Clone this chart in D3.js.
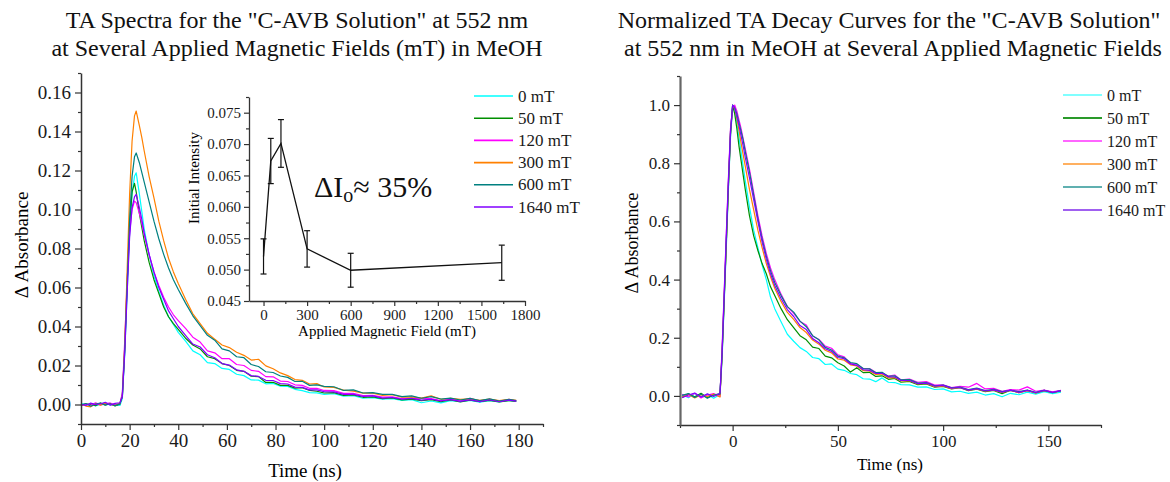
<!DOCTYPE html>
<html>
<head>
<meta charset="utf-8">
<script src="https://cdn.jsdelivr.net/npm/d3@7"></script>
<style>
body{margin:0;background:#fff;}
svg{font-family:"Liberation Serif","Times New Roman",serif;}
</style>
</head>
<body>
<svg id="chart" width="1170" height="482"></svg>
<script>
// legend labels and line colours, one per applied field
var fieldNames=["0 mT","50 mT","120 mT","300 mT","600 mT","1640 mT"]
var fieldNamesRight=["0  mT","50 mT","120 mT","300 mT","600 mT","1640 mT"]
var fieldColors=["#00ffff","#008f00","#ff00ff","#ff8000","#008080","#8000ff"]
var legendColorsRight=["#80ffff","#2a9a2a","#ff66ff","#ffb060","#60b0b0","#a060f0"]

// left panel: TA spectra, time (ns) and delta absorbance
var leftTimes=[0,2,4,6,8,10,12,14,16,17,18,19,20,21,22,22.7,24,25,26,28,30,32,34,36,38,40,43,46,49,52,55,58,61,64,67,70,73,76,79,82,85,88,91,94,97,100,104,108,112,116,120,124,128,132,136,140,144,148,152,156,160,164,168,172,176,179]
var absCyan0=[0.0006,-0.0002,0.0003,-0.0008,0.0001,0.0009,-0.0004,0.0002,-0.0005,
 0.003,0.026,0.058,0.088,0.108,0.117,0.1188,0.108,0.099,0.090,
 0.077,0.066,0.058,0.051,0.045,0.041,0.037,
 0.0325,0.0275,0.0255,0.0215,0.021,0.0185,0.018,0.0155,0.0148,0.0126,0.0125,0.0106,0.0108,0.0094,0.0093,0.0078,0.0071,0.0061,0.006,0.0052,
 0.0055,0.0043,0.0045,0.0032,0.0035,0.0027,0.003,0.0021,0.0025,0.0009,0.0018,0.0008,0.002,0.0014,0.0021,0.0012,0.002,0.0013,0.0021,0.0016]
var absGreen50=[-0.0003,0.0004,0.0,-0.0006,0.0008,-0.0002,0.0005,-0.0007,0.0002,
 0.005,0.03,0.063,0.092,0.109,0.1134,0.109,0.098,0.091,0.084,
 0.073,0.064,0.057,0.050,0.045,0.0415,0.0385,
 0.034,0.0305,0.0285,0.0245,0.0235,0.021,0.02,0.0175,0.017,0.0145,0.0143,0.0113,0.0114,0.0098,0.0098,0.0084,0.0086,0.0072,0.0068,0.0059,
 0.0061,0.0047,0.0049,0.0037,0.0039,0.003,0.0034,0.0024,0.0028,0.002,0.0025,0.0015,0.0023,0.0013,0.0022,0.0014,0.0021,0.0013,0.002,0.0016]
var absMagenta120=[-0.0006,0.0002,-0.0004,0.0009,-0.0002,0.0003,0.0008,-0.0001,0.0004,
 0.006,0.033,0.064,0.088,0.100,0.1043,0.1035,0.098,0.093,0.087,
 0.077,0.068,0.061,0.055,0.050,0.046,0.043,
 0.039,0.0345,0.032,0.0275,0.0265,0.0235,0.0235,0.0205,0.02,0.0175,0.017,0.0143,0.0142,0.012,0.0118,0.0101,0.0098,0.0083,0.0083,0.0072,
 0.0071,0.0057,0.0057,0.0046,0.0047,0.0038,0.0039,0.003,0.0033,0.0031,0.003,0.002,0.0028,0.0018,0.0032,0.0017,0.0027,0.0016,0.0025,0.0019]
var absOrange300=[0.0002,-0.0008,-0.0012,0.0004,-0.0003,0.0006,0.0001,-0.0005,0.0008,
 0.004,0.03,0.07,0.108,0.135,0.148,0.1505,0.143,0.137,0.130,
 0.117,0.106,0.094,0.084,0.075,0.068,0.062,
 0.054,0.0465,0.0415,0.0365,0.0335,0.0305,0.0292,0.0268,0.0252,0.0228,0.0232,0.0198,0.0183,0.0162,0.0148,0.0128,0.0124,0.0105,0.0107,0.009,
 0.0088,0.0074,0.0069,0.0058,0.0058,0.0047,0.005,0.0038,0.0039,0.0033,0.0044,0.0027,0.0031,0.0026,0.0029,0.0021,0.0028,0.002,0.0026,0.0021]
var absTeal600=[-0.0004,0.0005,-0.0009,0.0002,0.0007,-0.0003,0.0004,-0.0006,0.0003,
 0.004,0.028,0.062,0.095,0.117,0.127,0.129,0.124,0.119,0.114,
 0.104,0.094,0.085,0.077,0.070,0.064,0.059,
 0.052,0.0455,0.0405,0.0355,0.033,0.0285,0.0275,0.0245,0.024,0.0205,0.0195,0.0168,0.0164,0.0146,0.0139,0.0118,0.0119,0.0098,0.0101,0.0093,
 0.0091,0.0072,0.0075,0.0059,0.0061,0.0052,0.0052,0.004,0.0044,0.0032,0.004,0.0028,0.0033,0.0023,0.0031,0.002,0.0029,0.0018,0.0027,0.002]
var absPurple1640=[0.0001,-0.0005,0.0007,-0.0001,0.0004,0.0011,-0.0003,0.0006,0.0009,
 0.004,0.027,0.058,0.086,0.101,0.1065,0.1078,0.101,0.095,0.088,
 0.077,0.068,0.060,0.054,0.048,0.044,0.040,
 0.0355,0.031,0.0295,0.0255,0.024,0.021,0.0202,0.0178,0.017,0.0148,0.0144,0.0124,0.0123,0.0107,0.0105,0.0089,0.0088,0.0075,0.0075,0.0066,
 0.0065,0.0052,0.0052,0.0042,0.0044,0.0033,0.0036,0.0027,0.0031,0.0022,0.0027,0.0018,0.0025,0.0016,0.0024,0.0015,0.0023,0.0014,0.0022,0.0017]

// right panel: normalized decays
var rightTimes=[-24,-21,-18,-15,-12,-9,-6,-5,-4,-3,-2,-1,0,1,2,3,4,5,6,8,10,12,14,16,18,20,23,26,29,32,35,38,41,44,47,50,53,56,59,62,65,68,71,74,77,80,84,88,92,96,100,104,108,112,116,120,124,128,132,136,140,144,148,152,156]
var normCyan0=[0.004,-0.006,0.008,-0.004,0.006,-0.008,0.005,
 0.13,0.32,0.51,0.71,0.89,
 0.99,0.98,0.94,0.89,0.84,0.79,0.74,
 0.65,0.57,0.51,0.45,0.40,0.34,0.30,
 0.255,0.212,0.188,0.166,0.153,0.132,0.128,0.108,0.11,0.092,0.088,0.077,0.073,0.059,0.058,0.049,0.062,0.047,0.046,0.039,
 0.038,0.03,0.031,0.022,0.024,0.014,0.016,0.009,0.013,0.003,0.008,-0.003,0.009,0.004,0.013,0.006,0.015,0.008,0.013]
var normGreen50=[-0.005,0.007,-0.003,0.009,-0.006,0.004,0.006,
 0.15,0.34,0.53,0.73,0.91,
 1.0,0.97,0.92,0.86,0.81,0.76,0.71,
 0.62,0.55,0.50,0.455,0.42,0.375,0.345,
 0.30,0.262,0.235,0.207,0.193,0.168,0.163,0.137,0.131,0.114,0.103,0.082,0.097,0.08,0.081,0.067,0.069,0.057,0.06,0.047,
 0.05,0.039,0.041,0.03,0.033,0.024,0.028,0.018,0.023,0.015,0.019,0.008,0.02,0.011,0.019,0.01,0.019,0.012,0.018]
var normMagenta120=[0.006,-0.004,0.009,-0.007,0.003,0.008,-0.002,
 0.17,0.36,0.56,0.75,0.92,
 0.99,1.0,0.98,0.95,0.92,0.885,0.85,
 0.78,0.70,0.62,0.55,0.49,0.44,0.40,
 0.35,0.307,0.284,0.256,0.244,0.206,0.194,0.171,0.164,0.141,0.134,0.111,0.109,0.094,0.094,0.081,0.079,0.068,0.072,0.055,
 0.058,0.047,0.049,0.037,0.038,0.029,0.033,0.03,0.043,0.024,0.026,0.016,0.022,0.02,0.031,0.016,0.02,0.014,0.019]
var normOrange300=[-0.003,0.005,-0.007,0.004,-0.002,0.006,-0.004,
 0.14,0.33,0.52,0.72,0.9,
 0.995,0.99,0.955,0.915,0.87,0.83,0.79,
 0.71,0.64,0.57,0.51,0.455,0.41,0.37,
 0.325,0.287,0.263,0.235,0.218,0.192,0.178,0.157,0.148,0.127,0.123,0.107,0.103,0.087,0.086,0.074,0.075,0.062,0.063,0.052,
 0.052,0.041,0.043,0.032,0.034,0.025,0.029,0.02,0.024,0.016,0.02,0.012,0.019,0.011,0.018,0.01,0.018,0.011,0.017]
var normTeal600=[0.002,0.008,-0.005,0.006,-0.008,0.003,0.007,
 0.14,0.33,0.53,0.72,0.9,
 1.0,0.99,0.97,0.94,0.91,0.88,0.84,
 0.77,0.69,0.61,0.54,0.48,0.43,0.39,
 0.345,0.307,0.288,0.257,0.238,0.207,0.193,0.167,0.158,0.137,0.131,0.115,0.111,0.094,0.093,0.08,0.081,0.067,0.069,0.055,
 0.056,0.044,0.046,0.035,0.037,0.028,0.03,0.022,0.027,0.018,0.023,0.015,0.019,0.015,0.02,0.012,0.019,0.011,0.018]
var normPurple1640=[-0.006,0.003,0.01,-0.004,0.007,-0.002,0.009,
 0.15,0.35,0.55,0.74,0.91,
 1.0,0.99,0.96,0.93,0.895,0.86,0.82,
 0.75,0.675,0.60,0.53,0.47,0.42,0.38,
 0.335,0.297,0.273,0.242,0.228,0.197,0.183,0.162,0.153,0.132,0.128,0.11,0.105,0.09,0.088,0.077,0.078,0.065,0.065,0.053,
 0.053,0.042,0.044,0.034,0.036,0.027,0.029,0.02,0.025,0.017,0.021,0.013,0.02,0.012,0.019,0.011,0.019,0.012,0.018]

// inset: initial intensity vs applied field
var insetFields=[0,50,120,300,600,1640]
var insetIntensity=[0.0521,0.0673,0.0701,0.0533,0.0499,0.0511]
var insetError=[0.0028,0.0036,0.0038,0.0029,0.0027,0.0028]

// tick values
var leftXTicks=[0,20,40,60,80,100,120,140,160,180]
var leftXMinor=[10,30,50,70,90,110,130,150,170,190]
var leftYTicks=[0,0.02,0.04,0.06,0.08,0.10,0.12,0.14,0.16]
var leftYMinor=[-0.01,0.01,0.03,0.05,0.07,0.09,0.11,0.13,0.15,0.17]
var insetXTicks=[0,300,600,900,1200,1500,1800]
var insetXMinor=[150,450,750,1050,1350,1650]
var insetYTicks=[0.045,0.050,0.055,0.060,0.065,0.070,0.075]
var insetYMinor=[0.0475,0.0525,0.0575,0.0625,0.0675,0.0725,0.0775]
var rightXTicks=[0,50,100,150]
var rightXMinor=[-25,25,75,125,175]
var rightYTicks=[0,0.2,0.4,0.6,0.8,1.0]
var rightYMinor=[-0.1,0.1,0.3,0.5,0.7,0.9,1.1]

var svg=d3.select("#chart")
var serif="Liberation Serif, Times New Roman, serif"

var makeSeries=function(times,valueLists)
    {
        return valueLists.map(function(vals)
            {
                return vals.map(function(v,i){return {t:times[i],v:v}})
            })
    }

var drawAxisPair=function(g,scale,orient,major,minor,fmt,opts)
    {
        var ax=(orient=="left"?d3.axisLeft(scale):d3.axisBottom(scale))
            .tickValues(major)
            .tickFormat(fmt)
            .tickSize(opts.major)
            .tickPadding(opts.pad)
            .tickSizeOuter(0)
        var mx=(orient=="left"?d3.axisLeft(scale):d3.axisBottom(scale))
            .tickValues(minor)
            .tickFormat("")
            .tickSize(opts.minor)
            .tickSizeOuter(0)
        var a=g.append("g").call(ax)
        var b=g.append("g").call(mx)
        b.select(".domain").remove()
        a.attr("font-family",serif).attr("font-size",opts.font)
        a.selectAll("text").attr("fill","#1a1a1a")
        a.select(".domain").attr("stroke",opts.color).attr("stroke-width",opts.width)
        a.selectAll(".tick line").attr("stroke",opts.color).attr("stroke-width",1.2)
        b.selectAll(".tick line").attr("stroke",opts.color).attr("stroke-width",1.2)
        return a
    }

var drawLegend=function(x,y0,step,names,colors,size,lw)
    {
        var lg=svg.append("g")
        names.forEach(function(n,i)
            {
                lg.append("line")
                    .attr("x1",x).attr("x2",x+39)
                    .attr("y1",y0+i*step).attr("y2",y0+i*step)
                    .attr("stroke",colors[i]).attr("stroke-width",lw)
                lg.append("text")
                    .attr("x",x+44).attr("y",y0+i*step+5.5)
                    .attr("font-size",size)
                    .attr("fill","#1a1a1a")
                    .text(n)
            })
    }

// ---------- left panel ----------
var initLeft=function()
    {
        var m={left:81,top:73,width:462,height:351}
        var xScale=d3.scaleLinear().domain([0,190]).range([m.left,m.left+m.width])
        var yScale=d3.scaleLinear().domain([-0.01,0.17]).range([m.top+m.height,m.top])

        var series=makeSeries(leftTimes,[absCyan0,absGreen50,absMagenta120,absOrange300,absTeal600,absPurple1640])
        var line=d3.line()
            .x(function(d){return xScale(d.t)})
            .y(function(d){return yScale(d.v)})
        svg.append("g").selectAll("path")
            .data(series)
            .enter()
            .append("path")
            .attr("d",line)
            .attr("fill","none")
            .attr("stroke",function(d,i){return fieldColors[i]})
            .attr("stroke-width",1.2)
            .attr("stroke-linejoin","round")

        var opts={major:6,minor:3,pad:4,font:19,color:"#333",width:1.5}
        drawAxisPair(svg.append("g").attr("transform","translate(0,"+(m.top+m.height)+")"),
            xScale,"bottom",leftXTicks,leftXMinor,d3.format("d"),opts)
        drawAxisPair(svg.append("g").attr("transform","translate("+m.left+",0)"),
            yScale,"left",leftYTicks,leftYMinor,d3.format(".2f"),opts)

        svg.append("text")
            .attr("transform","translate(28,245) rotate(-90)")
            .attr("text-anchor","middle")
            .attr("font-size",19)
            .text("\u0394 Absorbance")
        svg.append("text")
            .attr("x",305).attr("y",477)
            .attr("text-anchor","middle")
            .attr("font-size",19)
            .text("Time (ns)")

        var title=svg.append("text").attr("text-anchor","middle").attr("font-size",24).attr("fill","#111")
        title.append("tspan").attr("x",297).attr("y",28).text("TA Spectra for the \"C-AVB Solution\" at 552 nm")
        title.append("tspan").attr("x",297).attr("y",56).text("at Several Applied Magnetic Fields (mT) in MeOH")

        drawLegend(474,96,22.2,fieldNames,fieldColors,17,1.6)
    }

// ---------- inset ----------
var initInset=function()
    {
        var xScale=d3.scaleLinear().domain([-100,1800]).range([249,525])
        var yScale=d3.scaleLinear().domain([0.045,0.0775]).range([301,97])

        var pts=insetFields.map(function(f,i){return {f:f,v:insetIntensity[i],e:insetError[i]}})
        var g=svg.append("g")
        g.append("path")
            .datum(pts)
            .attr("d",d3.line().x(function(d){return xScale(d.f)}).y(function(d){return yScale(d.v)}))
            .attr("fill","none").attr("stroke","#111").attr("stroke-width",1.3)
        var eb=g.selectAll(".err").data(pts).enter().append("g")
        eb.append("line")
            .attr("x1",function(d){return xScale(d.f)}).attr("x2",function(d){return xScale(d.f)})
            .attr("y1",function(d){return yScale(d.v-d.e)}).attr("y2",function(d){return yScale(d.v+d.e)})
            .attr("stroke","#111").attr("stroke-width",1.2)
        eb.append("line")
            .attr("x1",function(d){return xScale(d.f)-3}).attr("x2",function(d){return xScale(d.f)+3})
            .attr("y1",function(d){return yScale(d.v-d.e)}).attr("y2",function(d){return yScale(d.v-d.e)})
            .attr("stroke","#111").attr("stroke-width",1.2)
        eb.append("line")
            .attr("x1",function(d){return xScale(d.f)-3}).attr("x2",function(d){return xScale(d.f)+3})
            .attr("y1",function(d){return yScale(d.v+d.e)}).attr("y2",function(d){return yScale(d.v+d.e)})
            .attr("stroke","#111").attr("stroke-width",1.2)

        var opts={major:5,minor:3,pad:3,font:15,color:"#333",width:1.3}
        drawAxisPair(svg.append("g").attr("transform","translate(0,301)"),
            xScale,"bottom",insetXTicks,insetXMinor,d3.format("d"),opts)
        drawAxisPair(svg.append("g").attr("transform","translate(249,0)"),
            yScale,"left",insetYTicks,insetYMinor,d3.format(".3f"),opts)

        svg.append("text")
            .attr("transform","translate(199,178) rotate(-90)")
            .attr("text-anchor","middle")
            .attr("font-size",15)
            .text("Initial Intensity")
        svg.append("text")
            .attr("x",387).attr("y",336)
            .attr("text-anchor","middle")
            .attr("font-size",15)
            .text("Applied Magnetic Field (mT)")

        var note=svg.append("text").attr("x",314).attr("y",197).attr("font-size",30).attr("fill","#111")
        note.append("tspan").text("\u0394I")
        note.append("tspan").attr("font-size",20).attr("dy",5).text("o")
        note.append("tspan").attr("dy",-5).text("\u2248 35%")
    }

// ---------- right panel ----------
var initRight=function()
    {
        var m={left:680,top:76,width:421,height:349}
        var xScale=d3.scaleLinear().domain([-25,175]).range([m.left,m.left+m.width])
        var yScale=d3.scaleLinear().domain([-0.1,1.1]).range([m.top+m.height,m.top])

        var series=makeSeries(rightTimes,[normCyan0,normGreen50,normMagenta120,normOrange300,normTeal600,normPurple1640])
        var line=d3.line()
            .x(function(d){return xScale(d.t)})
            .y(function(d){return yScale(d.v)})
        svg.append("g").selectAll("path")
            .data(series)
            .enter()
            .append("path")
            .attr("d",line)
            .attr("fill","none")
            .attr("stroke",function(d,i){return fieldColors[i]})
            .attr("stroke-width",1.2)
            .attr("stroke-linejoin","round")

        var opts={major:6,minor:3,pad:4,font:17,color:"#333",width:1.3}
        drawAxisPair(svg.append("g").attr("transform","translate(0,"+(m.top+m.height)+")"),
            xScale,"bottom",rightXTicks,rightXMinor,d3.format("d"),opts)
        var ya=drawAxisPair(svg.append("g").attr("transform","translate("+m.left+",0)"),
            yScale,"left",rightYTicks,rightYMinor,d3.format(".1f"),opts)
        ya.select(".domain").attr("stroke","#666").attr("stroke-width",2.2)

        svg.append("text")
            .attr("transform","translate(638,243) rotate(-90)")
            .attr("text-anchor","middle")
            .attr("font-size",18)
            .text("\u0394 Absorbance")
        svg.append("text")
            .attr("x",890).attr("y",470)
            .attr("text-anchor","middle")
            .attr("font-size",17)
            .text("Time (ns)")

        var title=svg.append("text").attr("text-anchor","middle").attr("font-size",24).attr("fill","#111")
        title.append("tspan").attr("x",889).attr("y",28).text("Normalized TA Decay Curves for the \"C-AVB Solution\"")
        title.append("tspan").attr("x",893).attr("y",56).text("at 552 nm in MeOH at Several Applied Magnetic Fields")

        drawLegend(1063,95,23,fieldNamesRight,legendColorsRight,16,2)
    }

initLeft()
initInset()
initRight()
</script>
</body>
</html>
